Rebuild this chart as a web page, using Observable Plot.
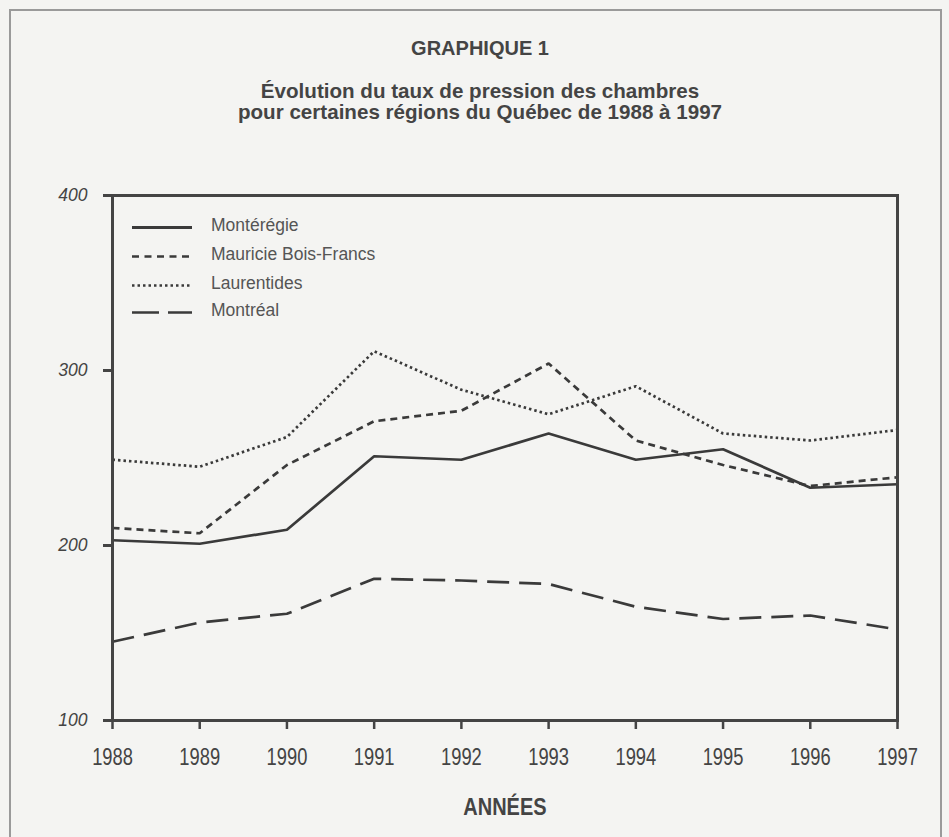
<!DOCTYPE html>
<html>
<head>
<meta charset="utf-8">
<script src="https://cdn.jsdelivr.net/npm/d3@7"></script>
<script src="https://cdn.jsdelivr.net/npm/@observablehq/plot@0.6"></script>
<style>
  html, body { margin: 0; padding: 0; background: #f4f4f2; }
  #page { position: relative; width: 949px; height: 837px; overflow: hidden; background: #f4f4f2; font-family: "Liberation Sans", Arial, sans-serif; color: #444; }
  #border { position: absolute; left: 9px; top: 9px; width: 933px; height: 840px; border: 2px solid #9a9a9a; border-bottom: none; box-sizing: border-box; }
  .t { position: absolute; left: 10px; width: 940px; text-align: center; font-weight: bold; white-space: nowrap; }
  #g1 { top: 38px; font-size: 20px; line-height: 20px; }
  #sub { top: 80px; font-size: 20.6px; line-height: 21px; }
  #chart { position: absolute; left: 0; top: 170px; }
  #xlabel { position: absolute; left: 112px; width: 785px; top: 796px; text-align: center; font-weight: bold; font-size: 23.5px; line-height: 23px; }
  #xlabel span { display: inline-block; transform: scaleX(0.85); transform-origin: center; }
  .lg { position: absolute; left: 131px; height: 28px; width: 300px; font-size: 17.5px; line-height: 28px; color: #555; }
  .lg svg { position: absolute; left: 0; top: 0; }
  .lg span { position: absolute; left: 80px; top: 0; white-space: nowrap; }
</style>
</head>
<body>
<div id="page">
  <div id="border"></div>
  <div class="t" id="g1">GRAPHIQUE 1</div>
  <div class="t" id="sub">Évolution du taux de pression des chambres<br>pour certaines régions du Québec de 1988 à 1997</div>
  <div id="chart"></div>
  <div id="legend"></div>
  <div id="xlabel"><span>ANNÉES</span></div>
</div>
<script>
const years = [1988, 1989, 1990, 1991, 1992, 1993, 1994, 1995, 1996, 1997];
const regions = ["Montérégie", "Mauricie Bois-Francs", "Laurentides", "Montréal"];
const monteregie = [203, 201, 209, 251, 249, 264, 249, 255, 233, 235];
const mauricie   = [210, 207, 246, 271, 277, 304, 260, 246, 234, 239];
const laurentides = [249, 245, 262, 311, 289, 275, 291, 264, 260, 266];
const montreal   = [145, 156, 161, 181, 180, 178, 165, 158, 160, 152];
const yTicks = [100, 200, 300, 400];

const seriesValues = [monteregie, mauricie, laurentides, montreal];
const dashes = [null, "7,5", "2.5,3", "22,10"];
const lineColor = "#3a3a3a";

const table = [];
regions.forEach((r, i) => years.forEach((y, j) => table.push({region: r, year: y, value: seriesValues[i][j]})));

const lineMarks = regions.map((r, i) => Plot.line(table.filter(d => d.region === r), {
  x: "year", y: "value", stroke: lineColor, strokeWidth: 2.7,
  strokeDasharray: dashes[i] || undefined, strokeLinejoin: "miter", strokeLinecap: "butt"
}));

const chart = Plot.plot({
  width: 949,
  height: 600,
  marginLeft: 112,
  marginRight: 52,
  marginTop: 25,
  marginBottom: 50,
  style: { background: "transparent", fontFamily: "'Liberation Sans', Arial, sans-serif", color: "#444", overflow: "visible" },
  x: { type: "linear", domain: [1988, 1997] },
  y: { domain: [100, 400] },
  marks: [
    ...lineMarks,
    Plot.frame({ stroke: "#444", strokeWidth: 3 }),
    Plot.axisY({ ticks: yTicks, tickSize: 9, tickPadding: 16, fontSize: 17.5, fontStyle: "italic", color: "#444", strokeWidth: 3, label: null }),
    Plot.axisX({ ticks: years, tickSize: 9, tickPadding: 19, tickFormat: d => String(d), fontSize: 23.5, className: "xax", color: "#444", strokeWidth: 2.5, label: null })
  ]
});
document.getElementById("chart").appendChild(chart);
// condense the year labels horizontally (narrow type in the original)
chart.querySelectorAll(".xax text").forEach(t => {
  const tr = t.getAttribute("transform") || "";
  t.setAttribute("transform", (tr + " scale(0.78,1)").trim());
});

// Legend (HTML overlay)
const legend = document.getElementById("legend");
const rowTops = [211, 240, 268.5, 296];
regions.forEach((r, i) => {
  const row = document.createElement("div");
  row.className = "lg";
  row.style.top = rowTops[i] + "px";
  const ns = "http://www.w3.org/2000/svg";
  const svg = document.createElementNS(ns, "svg");
  svg.setAttribute("width", 62); svg.setAttribute("height", 28);
  const ln = document.createElementNS(ns, "line");
  ln.setAttribute("x1", 1); ln.setAttribute("x2", 61);
  ln.setAttribute("y1", 16.5); ln.setAttribute("y2", 16.5);
  ln.setAttribute("stroke", lineColor);
  ln.setAttribute("stroke-width", i === 0 ? 3 : 2.6);
  const legendDash = [null, "7,5.5", "2.5,3", "27,9"][i];
  if (legendDash) ln.setAttribute("stroke-dasharray", legendDash);
  svg.appendChild(ln);
  row.appendChild(svg);
  const sp = document.createElement("span");
  sp.textContent = r;
  row.appendChild(sp);
  legend.appendChild(row);
});
</script>
</body>
</html>
